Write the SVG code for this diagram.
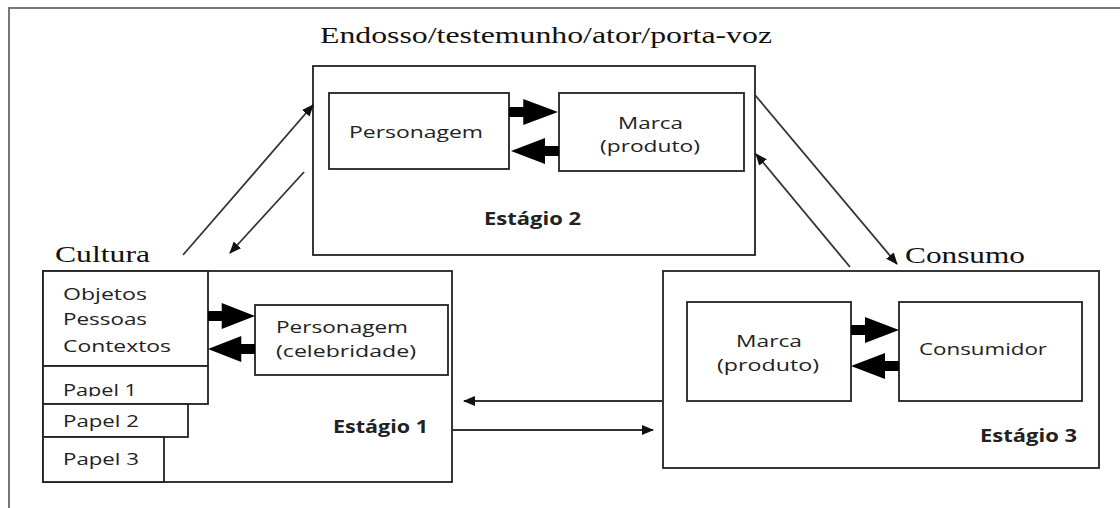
<svg xmlns="http://www.w3.org/2000/svg" width="1120" height="508" viewBox="0 0 1120 508">
<style>
.box{fill:#fff;stroke:#222;stroke-width:1.8}
.frame{fill:none;stroke:#777;stroke-width:2}
.conn{fill:none;stroke:#333;stroke-width:1.8}
.sans{font-family:"Open Sans","Liberation Sans",sans-serif;font-size:17px;fill:#222}
.bold{font-weight:bold}
.serif{font-family:"Liberation Serif","Times New Roman",serif;font-size:24px;fill:#111}
.fat{fill:#000}
</style>
<defs>
<marker id="ah" viewBox="0 0 12 10" refX="11" refY="5" markerWidth="12" markerHeight="10" markerUnits="userSpaceOnUse" orient="auto">
<path d="M0,0 L12,5 L0,10 Z" fill="#111"/>
</marker>
<path id="fatArrow" d="M0,-5 H14 V-13 L48,0 L14,13 V5 H0 Z"/>
<clipPath id="clipP1"><rect x="43" y="366" width="165" height="30.5"/></clipPath>
</defs>

<g id="frame">
<line class="frame" x1="9" y1="8" x2="1120" y2="8"/>
<line class="frame" x1="9" y1="7" x2="9" y2="508"/>
</g>

<g id="title-endosso">
<text class="serif" x="320" y="43" textLength="452" lengthAdjust="spacingAndGlyphs">Endosso/testemunho/ator/porta-voz</text>
</g>
<g id="title-cultura">
<text class="serif" x="55" y="262" textLength="95" lengthAdjust="spacingAndGlyphs">Cultura</text>
</g>
<g id="title-consumo">
<text class="serif" x="905" y="263" textLength="120" lengthAdjust="spacingAndGlyphs">Consumo</text>
</g>

<g id="stage2">
<rect class="box" x="313" y="66" width="442" height="189"/>
<g id="s2-personagem">
<rect class="box" x="329" y="93" width="180" height="76"/>
<text class="sans" x="349" y="138" textLength="134" lengthAdjust="spacingAndGlyphs">Personagem</text>
</g>
<g id="s2-marca">
<rect class="box" x="559" y="93" width="185" height="78"/>
<text class="sans" x="618" y="129" textLength="65" lengthAdjust="spacingAndGlyphs">Marca</text>
<text class="sans" x="600" y="152" textLength="100" lengthAdjust="spacingAndGlyphs">(produto)</text>
</g>
<text class="sans bold" x="484" y="225" textLength="97" lengthAdjust="spacingAndGlyphs">Estágio 2</text>
<use href="#fatArrow" class="fat" transform="translate(509,112) scale(1.02,1)"/>
<use href="#fatArrow" class="fat" transform="translate(559,151) scale(-1.0,1)"/>
</g>

<g id="stage1">
<rect class="box" x="43" y="271" width="409" height="211"/>
<g id="s1-objetos">
<rect class="box" x="43" y="271" width="165" height="95"/>
<text class="sans" x="63" y="300" textLength="84" lengthAdjust="spacingAndGlyphs">Objetos</text>
<text class="sans" x="63" y="325" textLength="84" lengthAdjust="spacingAndGlyphs">Pessoas</text>
<text class="sans" x="63" y="352" textLength="108" lengthAdjust="spacingAndGlyphs">Contextos</text>
</g>
<g id="s1-papel1">
<rect class="box" x="43" y="366" width="165" height="38"/>
<text class="sans" x="63" y="396" textLength="74" lengthAdjust="spacingAndGlyphs" clip-path="url(#clipP1)">Papel 1</text>
</g>
<g id="s1-papel2">
<rect class="box" x="43" y="404" width="145" height="33"/>
<text class="sans" x="63" y="427" textLength="76" lengthAdjust="spacingAndGlyphs">Papel 2</text>
</g>
<g id="s1-papel3">
<rect class="box" x="43" y="437" width="121" height="45"/>
<text class="sans" x="63" y="465" textLength="76" lengthAdjust="spacingAndGlyphs">Papel 3</text>
</g>
<g id="s1-personagem">
<rect class="box" x="255" y="305" width="193" height="70"/>
<text class="sans" x="276" y="333" textLength="132" lengthAdjust="spacingAndGlyphs">Personagem</text>
<text class="sans" x="276" y="357" textLength="140" lengthAdjust="spacingAndGlyphs">(celebridade)</text>
</g>
<text class="sans bold" x="333" y="433" textLength="95" lengthAdjust="spacingAndGlyphs">Estágio 1</text>
<use href="#fatArrow" class="fat" transform="translate(208,316) scale(0.98,1)"/>
<use href="#fatArrow" class="fat" transform="translate(255,349) scale(-0.98,1)"/>
</g>

<g id="stage3">
<rect class="box" x="663" y="271" width="436" height="197"/>
<g id="s3-marca">
<rect class="box" x="687" y="302" width="164" height="99"/>
<text class="sans" x="736" y="347" textLength="66" lengthAdjust="spacingAndGlyphs">Marca</text>
<text class="sans" x="717" y="371" textLength="102" lengthAdjust="spacingAndGlyphs">(produto)</text>
</g>
<g id="s3-consumidor">
<rect class="box" x="899" y="302" width="183" height="99"/>
<text class="sans" x="919" y="355" textLength="128" lengthAdjust="spacingAndGlyphs">Consumidor</text>
</g>
<text class="sans bold" x="980" y="442" textLength="97" lengthAdjust="spacingAndGlyphs">Estágio 3</text>
<use href="#fatArrow" class="fat" transform="translate(851,330) scale(1.0,1)"/>
<use href="#fatArrow" class="fat" transform="translate(899,366) scale(-1.0,1)"/>
</g>

<g id="connectors">
<line class="conn" x1="183" y1="255" x2="313" y2="105" marker-end="url(#ah)"/>
<line class="conn" x1="304" y1="172" x2="230" y2="253" marker-end="url(#ah)"/>
<line class="conn" x1="755" y1="95" x2="897" y2="264" marker-end="url(#ah)"/>
<line class="conn" x1="850" y1="267" x2="756" y2="154" marker-end="url(#ah)"/>
<line class="conn" x1="663" y1="401" x2="464" y2="401" marker-end="url(#ah)"/>
<line class="conn" x1="452" y1="430" x2="653" y2="430" marker-end="url(#ah)"/>
</g>
</svg>
